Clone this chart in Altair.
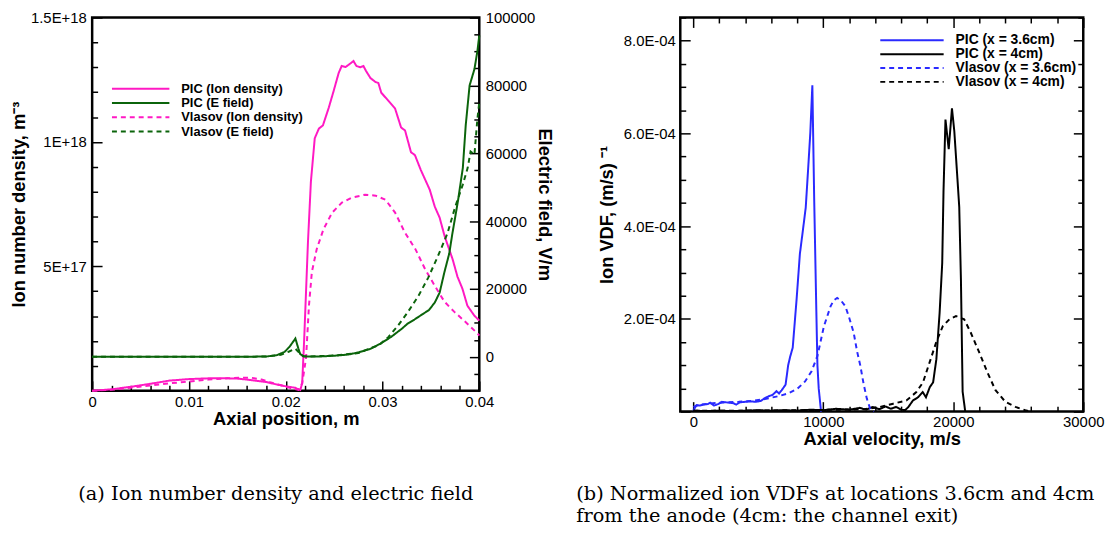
import altair as alt
import pandas as pd

FONT = "Liberation Sans"
SERIF = "DejaVu Serif"

# ---------------- panel (a): ion number density and electric field ----------------
A_SERIES = ["PIC (Ion density)", "PIC (E field)", "Vlasov (Ion density)", "Vlasov (E field)"]
A_COLORS = ["#FF19C3", "#0B640B", "#FF19C3", "#0B640B"]
A_DASHES = [[1, 0], [1, 0], [5, 4], [5, 4]]

# ion number density, units of 1e18 m^-3
pic_n_x = [0.0, 0.002, 0.004, 0.006, 0.008, 0.010, 0.012, 0.014, 0.015, 0.016, 0.018, 0.019,
           0.020, 0.021, 0.0213, 0.0215, 0.0217, 0.0219, 0.0223, 0.0226, 0.0230, 0.02343,
           0.02384, 0.02445, 0.02496, 0.02547, 0.02578, 0.02619, 0.0266, 0.0270, 0.02731,
           0.0277, 0.02803, 0.0283, 0.02875, 0.02926, 0.02957, 0.02987, 0.03059, 0.0313,
           0.03192, 0.03233, 0.03294, 0.03335, 0.03396, 0.03488, 0.0354, 0.0359, 0.03642,
           0.03724, 0.03775, 0.03826, 0.03877, 0.03949, 0.04]
pic_n_y = [0.0, 0.006, 0.016, 0.028, 0.041, 0.047, 0.050, 0.050, 0.049, 0.045, 0.035, 0.026,
           0.018, 0.012, 0.006, 0.003, 0.03, 0.2, 0.6, 0.84, 1.015, 1.054,
           1.066, 1.138, 1.206, 1.277, 1.305, 1.301, 1.313, 1.325, 1.305,
           1.30, 1.305, 1.285, 1.257, 1.241, 1.237, 1.198, 1.166, 1.134,
           1.058, 1.046, 0.959, 0.947, 0.887, 0.808, 0.74, 0.696, 0.621,
           0.529, 0.458, 0.41, 0.342, 0.302, 0.282]
vl_n_x = [0.0, 0.002, 0.004, 0.006, 0.008, 0.010, 0.012, 0.014, 0.0155, 0.0165, 0.0175, 0.0185,
          0.0195, 0.0205, 0.0213, 0.0217, 0.0221, 0.0224, 0.0227, 0.0232, 0.0239, 0.0248,
          0.0258, 0.0268, 0.0282, 0.0293, 0.0303, 0.0313, 0.0323, 0.0334, 0.0344, 0.0354,
          0.0364, 0.0374, 0.0385, 0.0398, 0.04]
vl_n_y = [0.0, 0.004, 0.012, 0.021, 0.030, 0.037, 0.045, 0.050, 0.053, 0.052, 0.045, 0.033,
          0.022, 0.011, 0.004, 0.03, 0.131, 0.342, 0.477, 0.569, 0.649, 0.716,
          0.756, 0.776, 0.788, 0.784, 0.768, 0.716, 0.637, 0.569, 0.489, 0.422,
          0.358, 0.318, 0.279, 0.231, 0.222]
# electric field, V/m
pic_e_x = [0.0, 0.005, 0.010, 0.015, 0.018, 0.0191, 0.0199, 0.0204, 0.0210, 0.0213, 0.0215,
           0.0219, 0.0235, 0.0254, 0.0265, 0.0275, 0.0287, 0.0298, 0.0309, 0.0320, 0.0326,
           0.0333, 0.0341, 0.0348, 0.0354, 0.0359, 0.0364, 0.0369, 0.0372, 0.0378, 0.0383,
           0.0386, 0.0390, 0.0395, 0.0398, 0.04]
pic_e_y = [0, 0, 0, 0, 100, 500, 1500, 3000, 5400, 2500, 800,
           100, 100, 400, 700, 1300, 2300, 3900, 5900, 8300, 9800,
           11000, 12500, 13800, 16000, 18900, 25000, 30500, 36000, 46000, 55700,
           68300, 80000, 84800, 90000, 94700]
vl_e_x = [0.0, 0.005, 0.010, 0.015, 0.018, 0.0195, 0.0203, 0.0210, 0.0214, 0.0218, 0.0225,
          0.0250, 0.0275, 0.0287, 0.0296, 0.0306, 0.0316, 0.0326, 0.0337, 0.0347, 0.0357,
          0.0367, 0.0375, 0.0383, 0.0388, 0.0391, 0.0395, 0.0398, 0.04]
vl_e_y = [0, 0, 0, 0, 100, 600, 1500, 2400, 1200, 200, 100,
          400, 1100, 2500, 3400, 5800, 9200, 13100, 17900, 23200, 29500,
          36300, 44100, 50800, 55700, 60500, 59600, 70000, 75000]

A_X_MAJOR = [0.0, 0.01, 0.02, 0.03, 0.04]
A_X_MINOR = [0.002, 0.004, 0.006, 0.008, 0.012, 0.014, 0.016, 0.018, 0.022, 0.024, 0.026,
             0.028, 0.032, 0.034, 0.036, 0.038]
A_N_LABELS = [5e17, 1e18, 1.5e18]
A_N_MAJOR = [0.0, 5e17, 1e18, 1.5e18]
A_N_MINOR = [1e17, 2e17, 3e17, 4e17, 6e17, 7e17, 8e17, 9e17, 1.1e18, 1.2e18, 1.3e18, 1.4e18]
A_E_MAJOR = [0, 20000, 40000, 60000, 80000, 100000]
A_E_MINOR = [-10000, -5000, 5000, 10000, 15000, 25000, 30000, 35000, 45000, 50000, 55000,
             65000, 70000, 75000, 85000, 90000, 95000]
CAPTION_A = "(a) Ion number density and electric field"

# ---------------- panel (b): normalized ion VDFs ----------------
B_SERIES = ["PIC (x = 3.6cm)", "PIC (x = 4cm)", "Vlasov (x = 3.6cm)", "Vlasov (x = 4cm)"]
B_COLORS = ["#2A2AFF", "#000000", "#2A2AFF", "#000000"]
B_DASHES = [[1, 0], [1, 0], [5, 4], [5, 4]]

# axial velocity (m/s) and VDF in units of 1e-4 (m/s)^-1
pic36_x = [0, 250, 500, 800, 1100, 1300, 1600, 1900, 2200, 2500, 2800, 3100, 3300, 3600, 4000,
           4400, 4800, 5200, 5500, 5800, 6100, 6400, 6600, 6800, 7100, 7300, 7450, 7650, 7950,
           8200, 8450, 8650, 8850, 9000, 9160, 9300, 9450, 9550, 9650, 9830]
pic36_y = [0.02, 0.14, 0.13, 0.15, 0.16, 0.19, 0.13, 0.16, 0.21, 0.20, 0.19, 0.18, 0.15, 0.20, 0.21,
           0.22, 0.21, 0.23, 0.29, 0.33, 0.36, 0.44, 0.39, 0.46, 0.58, 1.00, 1.18, 1.38, 2.43,
           3.40, 3.95, 4.40, 5.30, 6.00, 7.04, 4.60, 2.40, 1.00, 0.50, 0.0]
pic40_x = [0, 1000, 2000, 3000, 4000, 5000, 6000, 7000, 8000, 9000, 10000, 11000, 12000, 12800,
           13300, 13800, 14300, 14800, 15200, 15600, 16000, 16300, 16550, 16900, 17300, 17650,
           17900, 18200, 18450, 18700, 18950, 19150, 19250, 19400, 19650, 19900, 20080, 20330,
           20460, 20590, 20720, 20920]
pic40_y = [0.02, 0.01, 0.02, 0.01, 0.02, 0.03, 0.02, 0.03, 0.02, 0.04, 0.03, 0.06, 0.04, 0.08,
           0.04, 0.10, 0.05, 0.11, 0.06, 0.10, 0.04, 0.03, 0.10, 0.24, 0.31, 0.42,
           0.31, 0.53, 0.63, 1.13, 2.13, 3.20, 4.76, 6.30, 5.66, 6.54, 6.05, 4.98,
           4.41, 2.84, 0.43, 0.0]
vl36_x = [0, 500, 1500, 2500, 3500, 4500, 5500, 6500, 7300, 8000, 8600, 9100, 9550, 10050, 10560,
          10800, 11070, 11350, 11700, 12000, 12340, 12600, 12850, 13100, 13350, 13610, 13900]
vl36_y = [0.10, 0.15, 0.18, 0.20, 0.21, 0.23, 0.27, 0.33, 0.39, 0.49, 0.65, 0.87, 1.20, 1.84, 2.27,
          2.40, 2.45, 2.40, 2.27, 2.02, 1.70, 1.30, 0.99, 0.60, 0.28, 0.06, 0.0]
vl40_x = [0, 4000, 8000, 11000, 13100, 14370, 15380, 16400, 17160, 17670, 18180, 18680, 19190,
          19700, 20210, 20840, 21350, 21990, 22620, 23250, 24010, 24780, 25540, 26000]
vl40_y = [0.02, 0.02, 0.03, 0.04, 0.05, 0.10, 0.17, 0.24, 0.42, 0.63, 1.06, 1.49, 1.84,
          1.99, 2.06, 1.99, 1.70, 1.28, 0.85, 0.46, 0.21, 0.10, 0.03, 0.0]

B_X_MAJOR = [0, 10000, 20000, 30000]
B_X_MINOR = [2000, 4000, 6000, 8000, 12000, 14000, 16000, 18000, 22000, 24000, 26000, 28000]
B_Y_LABELS = [2e-4, 4e-4, 6e-4, 8e-4]
B_Y_MAJOR = [0.0, 2e-4, 4e-4, 6e-4, 8e-4]
B_Y_MINOR = [0.5e-4, 1.0e-4, 1.5e-4, 2.5e-4, 3.0e-4, 3.5e-4, 4.5e-4, 5.0e-4, 5.5e-4,
             6.5e-4, 7.0e-4, 7.5e-4, 8.5e-4]
CAPTION_B = ("(b) Normalized ion VDFs at locations 3.6cm and 4cm away\n"
             "from the anode (4cm: the channel exit)")

# ---------------- layout constants ----------------
W1, H1 = 391, 377
W2, H2 = 407, 398
MAJOR, MINOR = 10, 5.5
TICK_FS, TITLE_FS = 15, 18.5
CAP_FS = 19.5


def series_df(xs, ys, label, scale=1.0):
    return pd.DataFrame({"x": xs, "v": [y * scale for y in ys], "s": label})


def label_axis(orient, values, title, lpad, tpad, fmt=None, expr=None):
    kw = dict(orient=orient, values=values, title=title, ticks=False, tickSize=0, domain=False,
              grid=False, labelFont=FONT, labelFontSize=TICK_FS, labelColor="black",
              labelPadding=lpad, labelFlush=False, labelOverlap=False,
              titleFont=FONT, titleFontSize=TITLE_FS, titleFontWeight="bold",
              titleColor="black", titlePadding=tpad)
    if fmt is not None:
        kw["format"] = fmt
    if expr is not None:
        kw["labelExpr"] = expr
    return alt.Axis(**kw)


def tick_axis(orient, offset, values, size):
    return alt.Axis(orient=orient, offset=offset, values=values, labels=False, domain=False,
                    grid=False, ticks=True, tickSize=size, tickWidth=1.5, tickColor="black",
                    title=None)


def ghost(df, xscale, yscale, xaxis, yaxis):
    return alt.Chart(df).mark_point(opacity=0).encode(
        x=alt.X("x:Q", scale=xscale, axis=xaxis),
        y=alt.Y("v:Q", scale=yscale, axis=yaxis),
    )


def make_legend(x, y, sym_w, font_size, row_pad):
    return alt.Legend(title=None, orient="none", legendX=x, legendY=y, direction="vertical",
                      symbolType="stroke", symbolSize=sym_w * sym_w, symbolStrokeWidth=2,
                      clipHeight=14, rowPadding=row_pad, labelOffset=11, labelFont=FONT,
                      labelFontSize=font_size, labelFontWeight="bold", labelColor="black",
                      padding=0)


# ---------------- panel (a) chart ----------------
df_n = pd.concat([series_df(pic_n_x, pic_n_y, A_SERIES[0], 1e18),
                  series_df(vl_n_x, vl_n_y, A_SERIES[2], 1e18)], ignore_index=True)
df_e = pd.concat([series_df(pic_e_x, pic_e_y, A_SERIES[1]),
                  series_df(vl_e_x, vl_e_y, A_SERIES[3])], ignore_index=True)

xs_a = alt.Scale(domain=[0, 0.04], nice=False, zero=False)
ys_n = alt.Scale(domain=[0, 1.5e18], nice=False, zero=False)
ys_e = alt.Scale(domain=[-10000, 100000], nice=False, zero=False)
leg_a = make_legend(19, 65, 58, 13, 0.4)
col_a = alt.Color("s:N", scale=alt.Scale(domain=A_SERIES, range=A_COLORS), legend=leg_a)
dash_a = alt.StrokeDash("s:N", scale=alt.Scale(domain=A_SERIES, range=A_DASHES), legend=leg_a)

n_lines = alt.Chart(df_n).mark_line(strokeWidth=2).encode(
    x=alt.X("x:Q", scale=xs_a,
            axis=label_axis("bottom", A_X_MAJOR, "Axial position, m", 4, 0, fmt="~g")),
    y=alt.Y("v:Q", scale=ys_n,
            axis=label_axis("left", A_N_LABELS, "Ion number density, m\u207b\u00b3", 6, 2,
                            expr="upper(format(datum.value, '~e'))")),
    color=col_a, strokeDash=dash_a,
)
n_major = ghost(df_n, xs_a, ys_n, tick_axis("top", -H1, A_X_MAJOR, MAJOR),
                tick_axis("right", -W1, A_N_MAJOR, MAJOR))
n_minor = ghost(df_n, xs_a, ys_n, tick_axis("top", -H1, A_X_MINOR, MINOR),
                tick_axis("right", -W1, A_N_MINOR, MINOR))
n_group = alt.layer(n_lines, n_major, n_minor).resolve_axis(x="independent", y="independent")

e_lines = alt.Chart(df_e).mark_line(strokeWidth=2).encode(
    x=alt.X("x:Q", scale=xs_a, axis=None),
    y=alt.Y("v:Q", scale=ys_e,
            axis=label_axis("right", A_E_MAJOR, "Electric field, V/m", 6, 0, fmt="d")),
    color=col_a, strokeDash=dash_a,
)
e_major = ghost(df_e, xs_a, ys_e, None, tick_axis("left", -W1, A_E_MAJOR, MAJOR))
e_minor = ghost(df_e, xs_a, ys_e, None, tick_axis("left", -W1, A_E_MINOR, MINOR))
e_group = alt.layer(e_lines, e_major, e_minor).resolve_axis(y="independent")

cap_a = alt.Chart(pd.DataFrame({"t": [CAPTION_A]})).mark_text(
    font=SERIF, fontSize=CAP_FS, align="center", baseline="alphabetic", color="black"
).encode(text="t:N", x=alt.value(W1 / 2 - 10), y=alt.value(H1 + 110))

left = alt.layer(n_group, e_group, cap_a).resolve_scale(y="independent").properties(
    width=W1, height=H1)

# ---------------- panel (b) chart ----------------
df_v = pd.concat([series_df(pic36_x, pic36_y, B_SERIES[0], 1e-4),
                  series_df(pic40_x, pic40_y, B_SERIES[1], 1e-4),
                  series_df(vl36_x, vl36_y, B_SERIES[2], 1e-4),
                  series_df(vl40_x, vl40_y, B_SERIES[3], 1e-4)], ignore_index=True)

xs_b = alt.Scale(domain=[-1000, 30000], nice=False, zero=False)
ys_b = alt.Scale(domain=[0, 8.5e-4], nice=False, zero=False)
leg_b = make_legend(201, 16, 64, 14, 0)
col_b = alt.Color("s:N", scale=alt.Scale(domain=B_SERIES, range=B_COLORS), legend=leg_b)
dash_b = alt.StrokeDash("s:N", scale=alt.Scale(domain=B_SERIES, range=B_DASHES), legend=leg_b)

v_lines = alt.Chart(df_v).mark_line(strokeWidth=2).encode(
    x=alt.X("x:Q", scale=xs_b,
            axis=label_axis("bottom", B_X_MAJOR, "Axial velocity, m/s", 3, 0, fmt="d")),
    y=alt.Y("v:Q", scale=ys_b,
            axis=label_axis("left", B_Y_LABELS, "Ion VDF, (m/s) \u207b\u00b9", 5, 7,
                            expr="replace(upper(format(datum.value, '.1e')), 'E-4', 'E-04')")),
    color=col_b, strokeDash=dash_b,
)
v_t1 = ghost(df_v, xs_b, ys_b, tick_axis("top", -H2, B_X_MAJOR, MAJOR),
             tick_axis("right", -W2, B_Y_MAJOR, MAJOR))
v_t2 = ghost(df_v, xs_b, ys_b, tick_axis("top", -H2, B_X_MINOR, MINOR),
             tick_axis("right", -W2, B_Y_MINOR, MINOR))
v_t3 = ghost(df_v, xs_b, ys_b, tick_axis("bottom", -H2, B_X_MAJOR, MAJOR),
             tick_axis("left", -W2, B_Y_MAJOR, MAJOR))
v_t4 = ghost(df_v, xs_b, ys_b, tick_axis("bottom", -H2, B_X_MINOR, MINOR),
             tick_axis("left", -W2, B_Y_MINOR, MINOR))

cap_b = alt.Chart(pd.DataFrame({"t": [CAPTION_B]})).mark_text(
    font=SERIF, fontSize=CAP_FS, align="left", baseline="alphabetic", color="black",
    lineBreak="\n", lineHeight=23, limit=536, ellipsis=" "
).encode(text="t:N", x=alt.value(-105), y=alt.value(H2 + 89))

right = alt.layer(v_lines, v_t1, v_t2, v_t3, v_t4, cap_b).resolve_axis(
    x="independent", y="independent").properties(width=W2, height=H2)

chart = alt.hconcat(left, right, spacing=203, bounds="flush").resolve_scale(
    x="independent", y="independent", color="independent", strokeDash="independent"
).resolve_legend(color="independent", strokeDash="independent").configure(
    font=FONT
).configure_view(
    stroke="black", strokeWidth=2.5
).properties(
    padding={"left": 0, "top": -2, "right": 0, "bottom": 0}, background="white"
)

chart.save("out.html", embed_options={"renderer": "svg", "actions": False})
